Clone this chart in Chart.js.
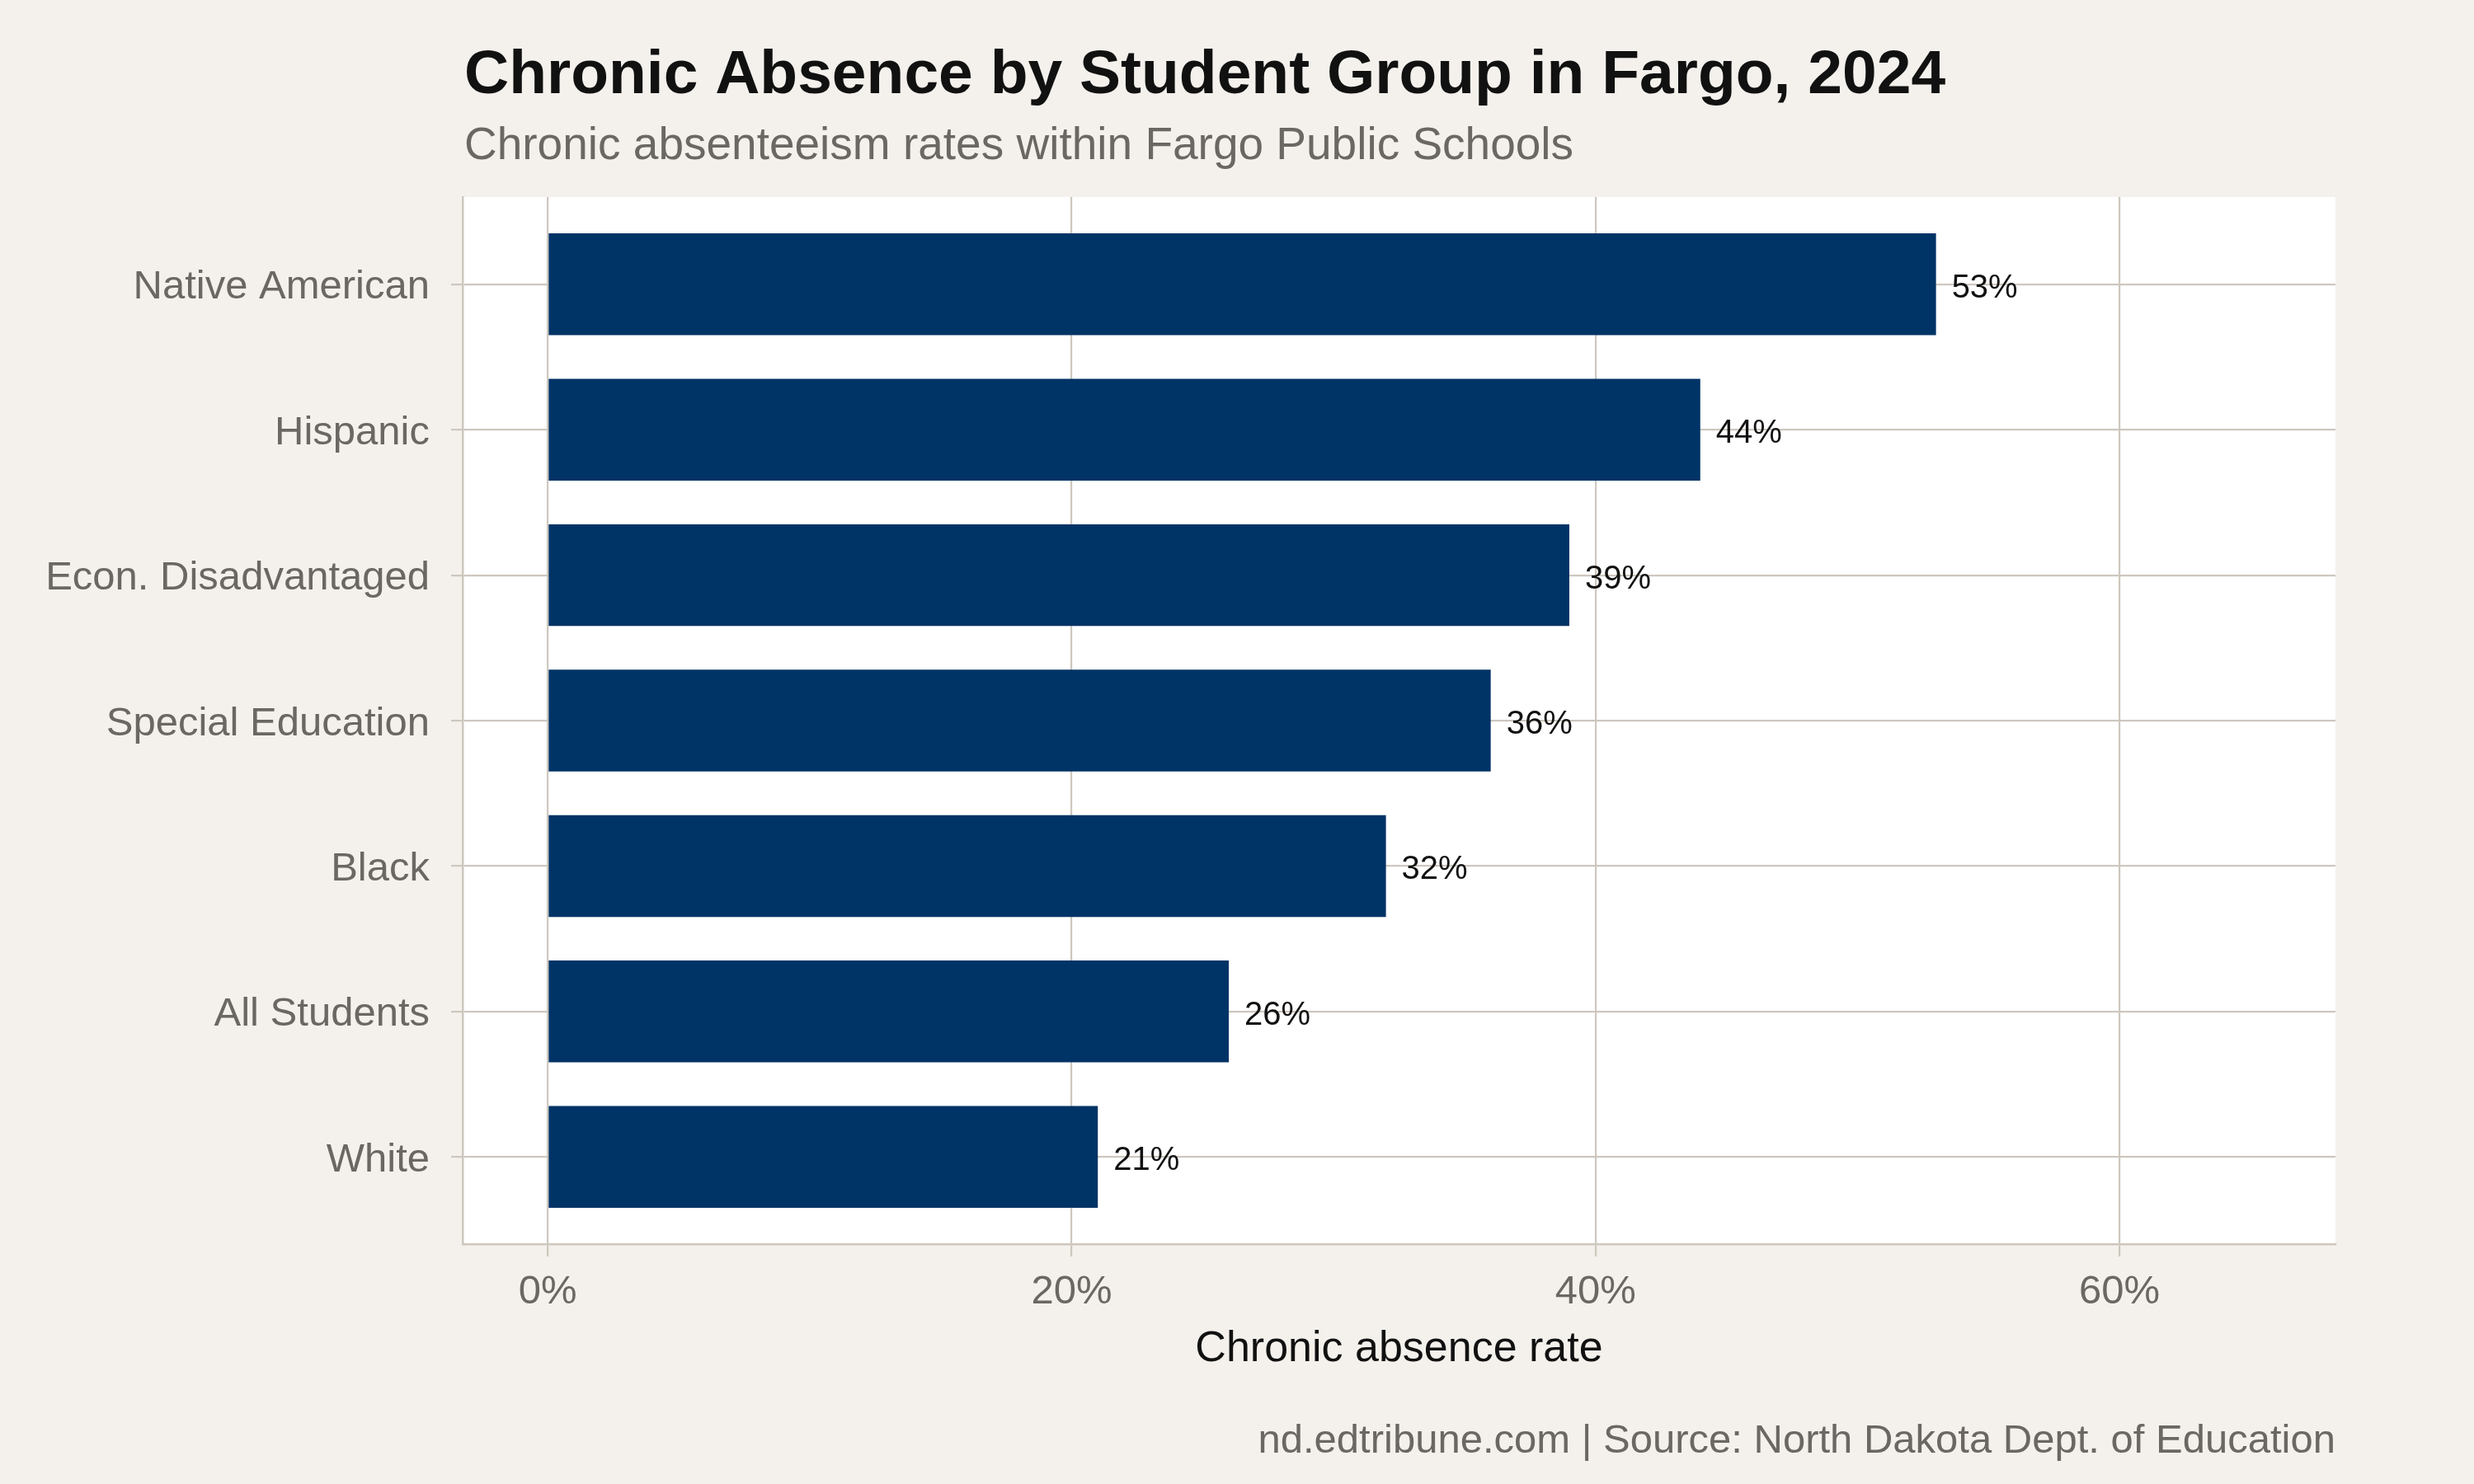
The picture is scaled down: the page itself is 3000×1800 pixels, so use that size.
<!DOCTYPE html>
<html>
<head>
<meta charset="utf-8">
<script src="https://cdn.jsdelivr.net/npm/chart.js@4.4.1/dist/chart.umd.min.js"></script>
<style>
  html, body { margin: 0; padding: 0; background: #F4F1EC; }
  #wrap { width: 3000px; height: 1800px; }
</style>
</head>
<body>
<div id="wrap"><canvas id="absenceChart" width="3000" height="1800"></canvas></div>
<script>
// data
const groups = ["Native American", "Hispanic", "Econ. Disadvantaged", "Special Education", "Black", "All Students", "White"];
const rates = [53, 44, 39, 36, 32, 26, 21];
const xTicks = [0, 20, 40, 60];

const titleText = "Chronic Absence by Student Group in Fargo, 2024";
const subtitleText = "Chronic absenteeism rates within Fargo Public Schools";
const xTitleText = "Chronic absence rate";
const captionText = "nd.edtribune.com | Source: North Dakota Dept. of Education";

const FONT = "'Liberation Sans', Arial, Helvetica, sans-serif";
const gridColor = "#CDC7BE";
const greyText = "#6B6762";

const textPlugin = {
    id: 'textPlugin',
    beforeDraw(chart) {
        const c = chart.ctx;
        const a = chart.chartArea;
        c.save();
        c.fillStyle = "#F4F1EC";
        c.fillRect(0, 0, chart.width, chart.height);
        c.fillStyle = "#FFFFFF";
        c.fillRect(a.left, a.top, a.right - a.left, a.bottom - a.top);
        c.restore();
    },
    afterDatasetsDraw(chart) {
        const c = chart.ctx;
        const meta = chart.getDatasetMeta(0);
        c.save();
        c.font = "40px " + FONT;
        c.fillStyle = "#111111";
        c.textAlign = "left";
        c.textBaseline = "middle";
        meta.data.forEach((bar, i) => {
            c.fillText(rates[i] + "%", bar.x + 19, bar.y + 5);
        });
        c.restore();
    },
    afterDraw(chart) {
        const c = chart.ctx;
        const a = chart.chartArea;
        c.save();
        c.textBaseline = "alphabetic";

        c.textAlign = "left";
        c.fillStyle = "#111111";
        c.font = "bold 75px " + FONT;
        c.fillText(titleText, a.left + 2, 113);

        c.fillStyle = greyText;
        c.font = "55px " + FONT;
        c.fillText(subtitleText, a.left + 2, 193);

        c.textAlign = "center";
        c.fillStyle = "#111111";
        c.font = "52px " + FONT;
        c.fillText(xTitleText, (a.left + a.right) / 2, 1651);

        c.textAlign = "right";
        c.fillStyle = greyText;
        c.font = "49px " + FONT;
        c.fillText(captionText, a.right, 1762);
        c.restore();
    }
};

const ctx = document.getElementById("absenceChart").getContext('2d');

const config = {
    type: 'bar',
    data: {
        labels: groups,
        datasets: [{
            label: "Chronic absence rate",
            data: rates.map((v, i) => ({ x: v, y: i })),
            backgroundColor: "#003366",
            borderWidth: 0,
            barPercentage: 0.7,
            categoryPercentage: 1.0
        }]
    },
    options: {
        indexAxis: 'y',
        responsive: false,
        animation: false,
        devicePixelRatio: 1,
        layout: {
            padding: { left: 0, top: 239, right: 168, bottom: 0 }
        },
        plugins: {
            legend: { display: false },
            title: { display: false },
            tooltip: { enabled: false }
        },
        scales: {
            x: {
                type: 'linear',
                position: 'bottom',
                min: -3.25,
                max: 68.25,
                afterBuildTicks: scale => { scale.ticks = xTicks.map(v => ({ value: v })); },
                afterFit: scale => { scale.height = 291; },
                grid: {
                    color: gridColor,
                    lineWidth: 2.2,
                    tickLength: 15,
                    drawTicks: true
                },
                border: { display: true, color: gridColor, width: 2.5 },
                ticks: {
                    color: greyText,
                    font: { family: FONT, size: 49 },
                    padding: 14,
                    callback: v => v + "%"
                }
            },
            y: {
                type: 'linear',
                reverse: true,
                offset: false,
                min: -0.6,
                max: 6.6,
                afterBuildTicks: scale => { scale.ticks = groups.map((g, i) => ({ value: i })); },
                afterFit: scale => { scale.width = 561; },
                grid: {
                    offset: false,
                    color: gridColor,
                    lineWidth: 2.2,
                    tickLength: 14,
                    drawTicks: true
                },
                border: { display: true, color: gridColor, width: 2.5 },
                ticks: {
                    color: greyText,
                    font: { family: FONT, size: 49 },
                    padding: 26,
                    labelOffset: 4,
                    callback: v => groups[v]
                }
            }
        }
    },
    plugins: [textPlugin]
};

let chart1 = new Chart(ctx, config);
</script>
</body>
</html>
